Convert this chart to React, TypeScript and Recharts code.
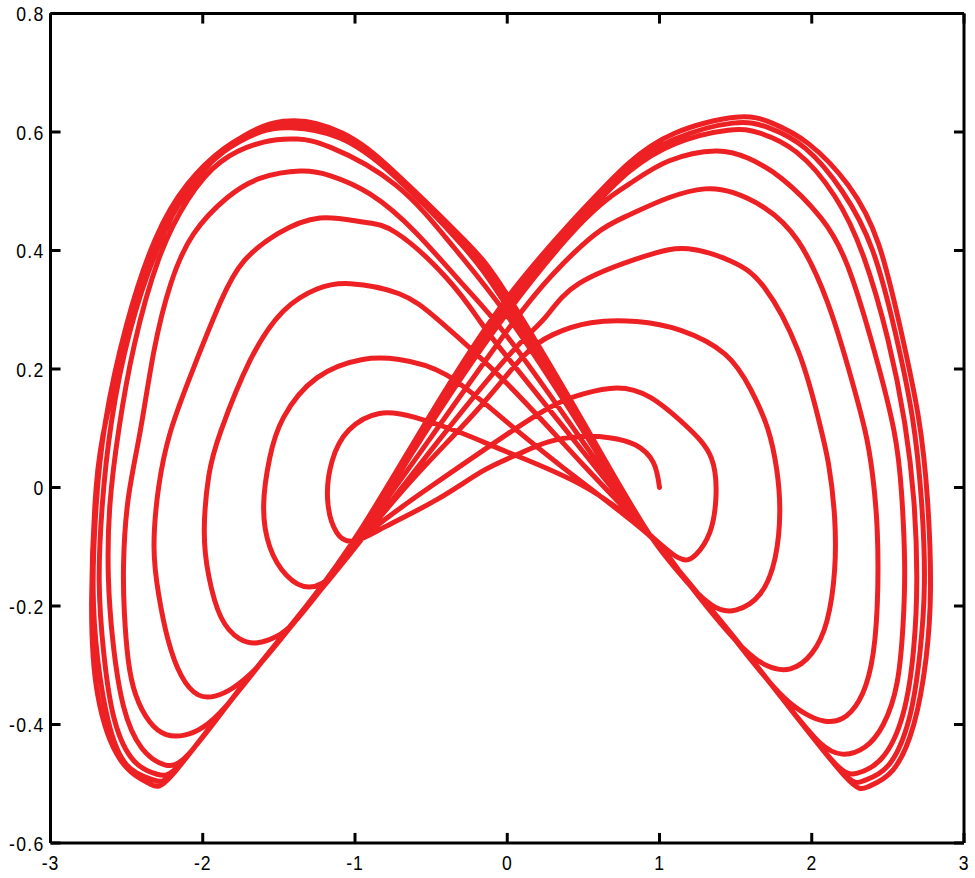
import React from "react";
import { LineChart, Line, XAxis, YAxis, ReferenceLine } from "recharts";

type Pt = [number, number];

const xTicks = [-3, -2, -1, 0, 1, 2, 3];
const yTicks = [-0.6, -0.4, -0.2, 0, 0.2, 0.4, 0.6, 0.8];

const hookPath: Pt[] = [[1.0,0.0],[0.96,0.042],[0.84,0.072],[0.67,0.084],[0.49,0.086],[0.27,0.077],[0.06,0.055],[-0.16,0.028],[-0.46,-0.02],[-0.8,-0.066]];
const left1: Pt[] = [[-1.0,-0.09],[-1.12,-0.076],[-1.18,-0.02],[-1.15,0.045],[-1.04,0.097],[-0.84,0.125],[-0.6,0.118],[-0.3,0.092],[0.0,0.06],[0.49,0.004],[0.88,-0.067]];
const right1: Pt[] = [[1.12,-0.118],[1.24,-0.113],[1.33,-0.076],[1.37,-0.02],[1.34,0.05],[1.17,0.105],[0.94,0.152],[0.72,0.168],[0.5,0.158],[0.3,0.138],[0.0,0.09],[-0.5,0.002],[-0.95,-0.085]];
const left2: Pt[] = [[-1.14,-0.145],[-1.3,-0.168],[-1.45,-0.148],[-1.56,-0.1],[-1.6,-0.03],[-1.56,0.05],[-1.47,0.118],[-1.25,0.185],[-0.95,0.216],[-0.71,0.216],[-0.4,0.19],[0.0,0.11],[0.5,0.007],[0.95,-0.085]];
const right2: Pt[] = [[1.15,-0.148],[1.34,-0.198],[1.5,-0.207],[1.66,-0.18],[1.76,-0.118],[1.79,-0.04],[1.77,0.03],[1.71,0.1],[1.6,0.165],[1.43,0.225],[1.14,0.265],[0.85,0.28],[0.55,0.278],[0.3,0.258],[0.1,0.22],[-0.2,0.13],[-0.6,0.02],[-0.95,-0.085]];
const left3: Pt[] = [[-1.15,-0.148],[-1.38,-0.222],[-1.52,-0.252],[-1.64,-0.262],[-1.76,-0.255],[-1.88,-0.219],[-1.96,-0.15],[-1.99,-0.072],[-1.96,0.02],[-1.88,0.096],[-1.69,0.214],[-1.47,0.298],[-1.25,0.335],[-1.03,0.344],[-0.71,0.327],[-0.44,0.28],[0.0,0.175],[0.5,0.038],[0.95,-0.085]];
const right3: Pt[] = [[1.2,-0.165],[1.5,-0.258],[1.7,-0.3],[1.86,-0.306],[2.0,-0.28],[2.1,-0.225],[2.15,-0.14],[2.15,-0.05],[2.11,0.04],[2.04,0.12],[1.91,0.231],[1.69,0.337],[1.47,0.382],[1.19,0.403],[0.9,0.39],[0.47,0.344],[0.25,0.287],[0.0,0.22],[-0.5,0.063],[-0.95,-0.085]];
const left4: Pt[] = [[-1.2,-0.165],[-1.5,-0.26],[-1.66,-0.308],[-1.8,-0.338],[-1.92,-0.352],[-2.03,-0.35],[-2.14,-0.318],[-2.23,-0.255],[-2.29,-0.18],[-2.32,-0.1],[-2.29,0.0],[-2.21,0.096],[-2.06,0.202],[-1.88,0.315],[-1.73,0.382],[-1.51,0.428],[-1.23,0.455],[-0.95,0.448],[-0.73,0.43],[-0.4,0.354],[-0.18,0.281],[0.0,0.22],[0.5,0.06],[0.95,-0.085]];
const right4: Pt[] = [[1.32,-0.2],[1.62,-0.297],[1.82,-0.355],[1.96,-0.382],[2.08,-0.394],[2.2,-0.39],[2.31,-0.36],[2.39,-0.3],[2.43,-0.2],[2.43,-0.072],[2.4,0.02],[2.35,0.096],[2.24,0.202],[2.1,0.315],[1.91,0.416],[1.69,0.472],[1.48,0.498],[1.3,0.504],[1.06,0.489],[0.8,0.46],[0.58,0.428],[0.3,0.36],[0.0,0.265],[-0.5,0.085],[-0.95,-0.075]];
const left5: Pt[] = [[-1.32,-0.2],[-1.62,-0.297],[-1.85,-0.37],[-2.0,-0.405],[-2.12,-0.418],[-2.24,-0.417],[-2.35,-0.395],[-2.44,-0.35],[-2.49,-0.29],[-2.515,-0.21],[-2.52,-0.128],[-2.49,-0.02],[-2.41,0.096],[-2.32,0.231],[-2.21,0.344],[-2.06,0.428],[-1.84,0.489],[-1.62,0.522],[-1.36,0.534],[-1.16,0.526],[-0.9,0.495],[-0.6,0.43],[-0.3,0.345],[0.0,0.255],[0.5,0.076],[0.95,-0.085]];
const right5: Pt[] = [[1.32,-0.2],[1.8,-0.354],[2.05,-0.43],[2.2,-0.45],[2.35,-0.438],[2.47,-0.4],[2.56,-0.33],[2.6,-0.23],[2.61,-0.128],[2.59,-0.01],[2.54,0.096],[2.41,0.231],[2.24,0.371],[2.06,0.455],[1.8,0.522],[1.58,0.556],[1.37,0.568],[1.06,0.551],[0.8,0.512],[0.5,0.45],[0.0,0.295],[-0.5,0.108],[-0.95,-0.072]];
const left6: Pt[] = [[-1.32,-0.2],[-1.8,-0.355],[-2.1,-0.452],[-2.25,-0.468],[-2.4,-0.44],[-2.52,-0.37],[-2.59,-0.26],[-2.62,-0.15],[-2.61,-0.03],[-2.55,0.1],[-2.45,0.24],[-2.29,0.385],[-2.1,0.485],[-1.88,0.55],[-1.6,0.583],[-1.38,0.588],[-1.16,0.574],[-0.73,0.51],[-0.35,0.405],[0.0,0.29],[0.5,0.095],[0.95,-0.085]];
const right6: Pt[] = [[1.32,-0.2],[1.8,-0.354],[2.15,-0.465],[2.3,-0.482],[2.46,-0.457],[2.6,-0.382],[2.67,-0.27],[2.69,-0.15],[2.67,-0.02],[2.61,0.11],[2.5,0.25],[2.34,0.39],[2.15,0.492],[1.9,0.566],[1.66,0.598],[1.45,0.603],[1.1,0.58],[0.8,0.533],[0.5,0.456],[0.0,0.305],[-0.5,0.115],[-0.95,-0.07]];
const left7: Pt[] = [[-1.32,-0.2],[-1.8,-0.354],[-2.15,-0.468],[-2.3,-0.484],[-2.45,-0.462],[-2.58,-0.392],[-2.65,-0.28],[-2.68,-0.16],[-2.66,-0.03],[-2.6,0.11],[-2.48,0.262],[-2.3,0.402],[-2.1,0.502],[-1.86,0.567],[-1.62,0.6],[-1.42,0.607],[-1.1,0.59],[-0.73,0.523],[-0.3,0.41],[0.0,0.305],[0.5,0.1],[0.95,-0.085]];
const right7: Pt[] = [[1.32,-0.2],[1.8,-0.354],[2.2,-0.48],[2.34,-0.495],[2.5,-0.47],[2.64,-0.39],[2.71,-0.28],[2.74,-0.16],[2.72,-0.02],[2.66,0.12],[2.55,0.26],[2.4,0.4],[2.2,0.5],[1.96,0.572],[1.72,0.607],[1.48,0.615],[1.1,0.588],[0.8,0.54],[0.5,0.462],[0.0,0.313],[-0.5,0.12],[-0.95,-0.068]];
const left8: Pt[] = [[-1.32,-0.2],[-1.8,-0.354],[-2.18,-0.478],[-2.33,-0.493],[-2.5,-0.468],[-2.62,-0.395],[-2.69,-0.29],[-2.72,-0.17],[-2.7,-0.03],[-2.64,0.11],[-2.5,0.275],[-2.31,0.42],[-2.1,0.512],[-1.86,0.572],[-1.64,0.604],[-1.45,0.613],[-1.1,0.594],[-0.73,0.527],[-0.3,0.415],[0.0,0.315],[0.5,0.105],[0.95,-0.085]];
const right8: Pt[] = [[1.32,-0.2],[1.8,-0.354],[2.22,-0.488],[2.37,-0.505],[2.53,-0.478],[2.67,-0.4],[2.75,-0.29],[2.78,-0.17],[2.76,-0.02],[2.7,0.12],[2.59,0.26],[2.44,0.41],[2.24,0.51],[1.98,0.58],[1.74,0.615],[1.5,0.625],[1.1,0.598],[0.8,0.548],[0.5,0.47],[0.0,0.32],[-0.5,0.125],[-0.95,-0.066]];
const left9: Pt[] = [[-1.32,-0.2],[-1.8,-0.354],[-2.2,-0.485],[-2.35,-0.5],[-2.54,-0.46],[-2.69,-0.35],[-2.73,-0.19],[-2.7,0.0],[-2.63,0.12],[-2.47,0.28],[-2.26,0.43],[-2.04,0.52],[-1.82,0.578],[-1.47,0.618],[-1.08,0.598],[-0.73,0.53],[-0.29,0.42],[0.0,0.325],[0.5,0.11],[0.95,-0.085],[1.32,-0.2],[1.8,-0.354]];

const trajectory: Pt[][] = [hookPath, left1, right1, left2, right2, left3, right3, left4, right4, left5, right5, left6, right6, left7, right7, left8, right8, left9];
const data = trajectory.flat().map(([x, y]) => ({ x, y }));

const FONT = "'Liberation Sans', Arial, sans-serif";
const TICK_LEN_X = 0.066;
const TICK_LEN_Y = 0.017;
const AXIS_COLOR = "#000";
const LABEL_SIZE = 21;
const LABEL_SCALE = 0.84;

const BottomTick = (props: any) => {
  const { x, y, payload } = props;
  return (
    <text transform={`translate(${x},${y + 12}) scale(${LABEL_SCALE},1)`} dy="0.72em" textAnchor="middle"
      fontFamily={FONT} fontSize={LABEL_SIZE} letterSpacing={1} fill="#000">
      {String(payload.value)}
    </text>
  );
};

const LeftTick = (props: any) => {
  const { x, y, payload } = props;
  const v = Math.round(payload.value * 10) / 10;
  return (
    <text transform={`translate(${x - 6},${y}) scale(${LABEL_SCALE},1)`} dy="0.36em" textAnchor="end"
      fontFamily={FONT} fontSize={LABEL_SIZE} letterSpacing={1.5} fill="#000">
      {String(v)}
    </text>
  );
};

export default function App() {
  const axisLine = { stroke: AXIS_COLOR, strokeWidth: 3 };
  const refProps = { xAxisId: "b", yAxisId: "l", stroke: AXIS_COLOR, strokeWidth: 3, ifOverflow: "visible" as const };
  return (
    <div style={{ position: "absolute", left: 0, top: 0, background: "#fff" }}>
      <LineChart width={975} height={878} data={data} margin={{ top: 12.5, right: 10, bottom: 0, left: 0 }}>
        <XAxis xAxisId="b" dataKey="x" type="number" orientation="bottom" domain={[-3, 3]} ticks={xTicks}
          allowDataOverflow interval={0} height={35} tickSize={0} tickMargin={0} tickLine={false}
          axisLine={axisLine} tick={<BottomTick />} />
        <XAxis xAxisId="t" dataKey="x" type="number" orientation="top" domain={[-3, 3]} ticks={xTicks}
          allowDataOverflow interval={0} height={1} tickSize={0} tickMargin={0} tickLine={false}
          axisLine={axisLine} tick={false} />
        <YAxis yAxisId="l" type="number" orientation="left" domain={[-0.6, 0.8]} ticks={yTicks}
          allowDataOverflow interval={0} width={50.5} tickSize={0} tickMargin={0} tickLine={false}
          axisLine={axisLine} tick={<LeftTick />} />
        <YAxis yAxisId="r" type="number" orientation="right" domain={[-0.6, 0.8]} ticks={yTicks}
          allowDataOverflow interval={0} width={1} tickSize={0} tickMargin={0} tickLine={false}
          axisLine={axisLine} tick={false} />
        {xTicks.map((t) => (
          <ReferenceLine key={`b${t}`} {...refProps} segment={[{ x: t, y: -0.6 }, { x: t, y: -0.6 + TICK_LEN_Y }]} />
        ))}
        {xTicks.map((t) => (
          <ReferenceLine key={`t${t}`} {...refProps} segment={[{ x: t, y: 0.8 }, { x: t, y: 0.8 - TICK_LEN_Y }]} />
        ))}
        {yTicks.map((t) => (
          <ReferenceLine key={`l${t}`} {...refProps} segment={[{ x: -3, y: t }, { x: -3 + TICK_LEN_X, y: t }]} />
        ))}
        {yTicks.map((t) => (
          <ReferenceLine key={`r${t}`} {...refProps} segment={[{ x: 3, y: t }, { x: 3 - TICK_LEN_X, y: t }]} />
        ))}
        <Line xAxisId="b" yAxisId="l" dataKey="y" type="natural" stroke="#ED2024" strokeWidth={5}
          dot={false} activeDot={false} isAnimationActive={false} strokeLinejoin="round" strokeLinecap="round" />
        <Line xAxisId="t" yAxisId="r" dataKey="y" type="linear" stroke="none" strokeWidth={0}
          dot={false} activeDot={false} isAnimationActive={false} legendType="none" />
      </LineChart>
    </div>
  );
}
